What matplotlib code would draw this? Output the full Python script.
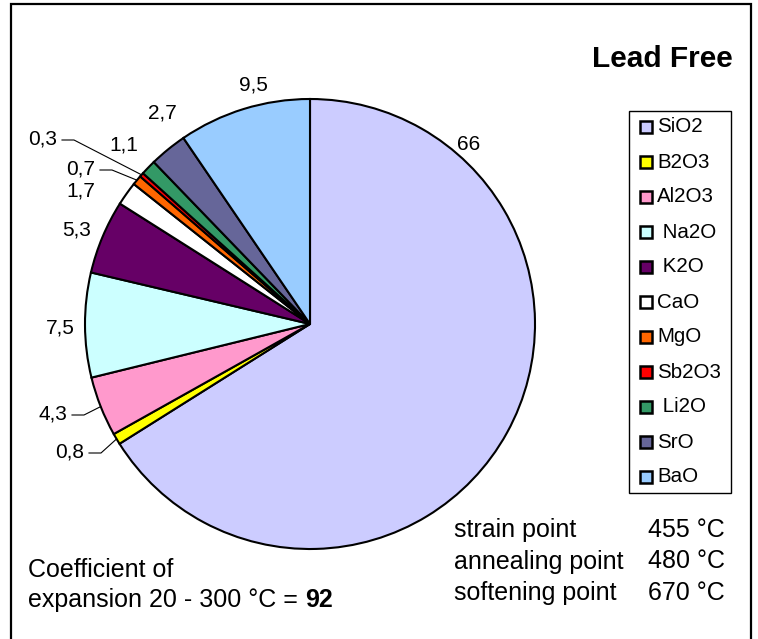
import matplotlib
matplotlib.use("Agg")
import matplotlib.pyplot as plt
from matplotlib.patches import Rectangle
import numpy as np

plt.rcParams['font.family'] = ['Liberation Sans', 'DejaVu Sans']

# ---- data ----
categories = ["SiO2", "B2O3", "Al2O3", "Na2O", "K2O", "CaO", "MgO", "Sb2O3", "Li2O", "SrO", "BaO"]
values = [66, 0.8, 4.3, 7.5, 5.3, 1.7, 0.7, 0.3, 1.1, 2.7, 9.5]
value_labels = ["66", "0,8", "4,3", "7,5", "5,3", "1,7", "0,7", "0,3", "1,1", "2,7", "9,5"]
legend_labels = ["SiO2", "B2O3", "Al2O3", " Na2O", " K2O", "CaO", "MgO", "Sb2O3", " Li2O", "SrO", "BaO"]
colors = ["#CCCCFF", "#FFFF00", "#FF99CC", "#CCFFFF", "#660066", "#FFFFFF",
          "#FF6600", "#FF0000", "#339966", "#666699", "#99CCFF"]
props_names = ["strain point", "annealing point", "softening point"]
props_values = ["455 °C", "480 °C", "670 °C"]
title = "Lead Free"
cte_value = "92"

# ---- layout (pixel coordinates, y measured from top) ----
W, H = 758, 639
cx, cy, R = 310, 324, 225
label_pos = {
    "SiO2": (469, 145), "B2O3": (70, 452), "Al2O3": (53, 414), "Na2O": (60, 328),
    "K2O": (77, 230), "CaO": (81, 191), "MgO": (81, 169), "Sb2O3": (43, 139),
    "Li2O": (124, 145), "SrO": (162, 113), "BaO": (253, 85),
}
leaders = {"B2O3", "Al2O3", "MgO", "Sb2O3"}

fig = plt.figure(figsize=(W / 100, H / 100), dpi=100)
ax = fig.add_axes([0, 0, 1, 1])
ax.axis('off')

def Y(py):
    return H - py

wedges, _ = ax.pie(values, colors=colors, startangle=90, counterclock=False,
                   center=(cx, Y(cy)), radius=R, normalize=True,
                   wedgeprops=dict(edgecolor='black', linewidth=1.5))
ax.set_xlim(0, W)
ax.set_ylim(0, H)
ax.set_aspect('equal')

total = sum(values)
cum = np.cumsum([0] + values)
for i, cat in enumerate(categories):
    mid = (cum[i] + cum[i + 1]) / 2 / total
    ang = np.deg2rad(90 - mid * 360)
    tx, ty = label_pos[cat]
    ax.text(tx, Y(ty), value_labels[i], ha='center', va='center', fontsize=15)
    if cat in leaders:
        ex = cx + R * np.cos(ang)
        ey = cy - R * np.sin(ang)
        x0 = tx + 19
        x1 = x0 + 12
        ax.plot([x0, x1, ex], [Y(ty + 1), Y(ty + 1), Y(ey)], color='black', lw=0.8)

# legend
ax.add_patch(Rectangle((629, Y(493)), 731 - 629, 493 - 111, facecolor='white',
                       edgecolor='black', lw=1.0))
for i, (lab, col) in enumerate(zip(legend_labels, colors)):
    yy = 127 + i * 35
    ax.add_patch(Rectangle((640, Y(yy + 6)), 12, 12, facecolor=col, edgecolor='black', lw=1.8))
    ax.text(657, Y(yy), lab, ha='left', va='center', fontsize=14.8)

# title
ax.text(592, Y(67), title, ha='left', va='baseline', fontsize=21.5, fontweight='bold')

# properties
for i, (n, v) in enumerate(zip(props_names, props_values)):
    yy = 537 + i * 31.5
    ax.text(454, Y(yy), n, ha='left', va='baseline', fontsize=18)
    ax.text(648, Y(yy), v, ha='left', va='baseline', fontsize=18)

# coefficient text
ax.text(28, Y(577), "Coefficient of", ha='left', va='baseline', fontsize=18)
t = ax.text(28, Y(607), "expansion 20 - 300 °C = ", ha='left', va='baseline', fontsize=18)
fig.canvas.draw()
bb = t.get_window_extent()
x_end = ax.transData.inverted().transform((bb.x1, bb.y0))[0]
ax.text(x_end, Y(607), cte_value, ha='left', va='baseline', fontsize=18, fontweight='bold')

# border
ax.add_patch(Rectangle((11, -20), 751 - 11, H - 4 + 20, facecolor='none',
                       edgecolor='black', lw=1.6, clip_on=False))

fig.savefig("out.png", dpi=100)
